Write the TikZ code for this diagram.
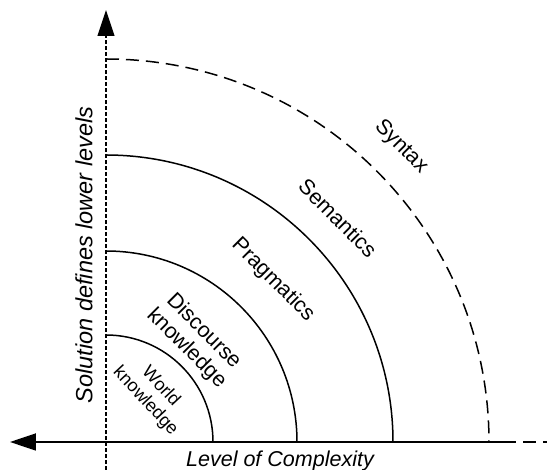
\documentclass[tikz,border=0pt]{standalone}
\usepackage{fontspec}
\setmainfont{Liberation Sans}
\usetikzlibrary{arrows.meta, positioning}

\begin{document}
\begin{tikzpicture}[x=1pt, y=1pt,
        level/.style={font=\fontsize{21.5}{24}\selectfont, rotate=-45, align=center},
        axislabel/.style={font=\fontsize{21.5}{24}\selectfont\itshape},
        ring/.style={line width=1.5pt},
        outer/.style={line width=1.5pt, dash pattern=on 13pt off 7pt},
        bigtip/.style={-{Triangle[length=26pt,width=17pt]}}]
    \useasboundingbox (-106,-28) rectangle (441,442);

    \coordinate (o) at (0,0);
    \coordinate (top) at (0,432);
    \coordinate (bot) at (0,-28);
    \coordinate (left) at (-96,0);
    \coordinate (right) at (397,0);
    \coordinate (far) at (441,0);

    % axes
    \draw[bigtip, line width=1.2pt, dash pattern=on 4pt off 2pt] (bot) -- (top);
    \draw[bigtip, line width=1.8pt] (right) -- (left);
    \draw[outer] (right) -- (far);

    % levels
    \foreach \r in {107,191,287}
        \draw[ring] (0,\r) arc[start angle=90, end angle=0, radius=\r];
    \draw[outer] (0,383) arc[start angle=90, end angle=0, radius=383];

    \node[level] (syntax) at (295,295) {Syntax};
    \node[level] (semantics) at (232,224) {Semantics};
    \node[level] (pragmatics) at (167,162) {Pragmatics};
    \node[level] (discourse) at (89,102) {Discourse\\knowledge};
    \node[level, rotate=-2, font=\fontsize{18}{21}\selectfont] (world) at (47,48) {World\\knowledge};

    \node[axislabel] (complexity) at (174,-18.5) {Level of Complexity};
    \node[axislabel, rotate=90, font=\fontsize{23.5}{26}\selectfont\itshape] (solution) at (-22,187) {Solution defines lower levels};
\end{tikzpicture}
\end{document}
